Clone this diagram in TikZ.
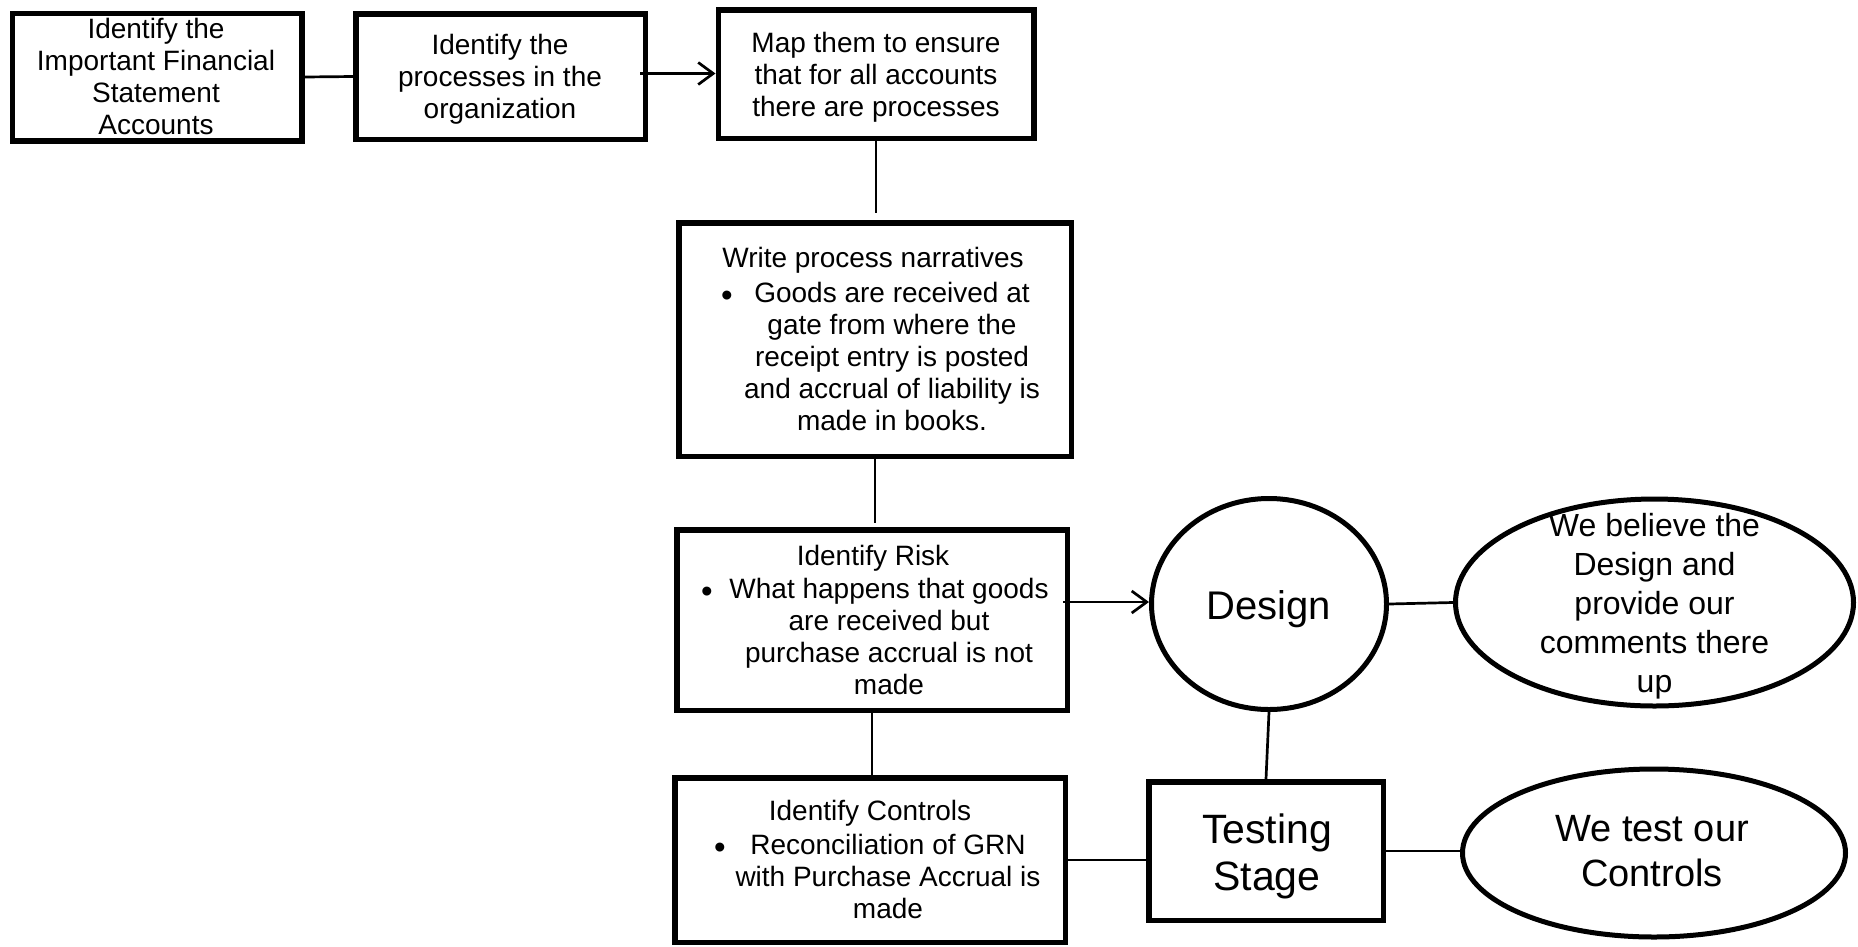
\documentclass[tikz,border=0pt]{standalone}
\usepackage{fontspec}
\setmainfont{Liberation Sans}
\usetikzlibrary{arrows.meta,shapes.geometric}
\tikzset{
  box/.style={draw, line width=5.5pt, rectangle, inner sep=0pt},
  oval/.style={draw, line width=5pt, ellipse, inner sep=0pt},
  txt/.style={align=center, inner sep=0pt, font=\fontsize{28}{32}\selectfont},
  dot/.style={inner sep=0pt, font=\fontsize{33}{33}\selectfont},
  conn/.style={line width=2.7pt},
  arr/.style={line width=2.7pt, -{Straight Barb[length=15pt,width=22pt]}},
}
\begin{document}
\begin{tikzpicture}[x=1pt,y=1pt]
\useasboundingbox (0,0) rectangle (1858,-946);
% boxes
\node[box, minimum width=289.5pt, minimum height=127.5pt] (b1) at (157,-77) {};
\node[box, minimum width=289.5pt, minimum height=125.5pt] (b2) at (500.5,-76.5) {};
\node[box, minimum width=315.5pt, minimum height=128.5pt] (b3) at (876,-74) {};
\node[box, minimum width=392.5pt, minimum height=233.5pt] (b4) at (875,-339.5) {};
\node[box, minimum width=390.5pt, minimum height=180.5pt] (b5) at (872,-620) {};
\node[box, minimum width=390.5pt, minimum height=164.5pt] (b6) at (870,-860) {};
\node[box, minimum width=234.5pt, minimum height=138.5pt] (t) at (1266,-851) {};
\node[oval, minimum width=235pt, minimum height=211pt] (d) at (1269,-604) {};
\node[oval, minimum width=398pt, minimum height=207pt] (e1) at (1654.5,-602.5) {};
\node[oval, minimum width=383pt, minimum height=168pt] (e2) at (1654,-853) {};
% texts
\node[txt, font=\fontsize{41}{47}\selectfont] (tt) at (1267,-856) {Testing\\Stage};
\node[txt, font=\fontsize{40}{47}\selectfont] (td) at (1269,-609) {Design};
\node[txt, font=\fontsize{32}{39}\selectfont] (te1) at (1654.5,-606) {We believe the\\Design and\\provide our\\comments there\\up};
\node[txt, font=\fontsize{38}{45}\selectfont] (te2) at (1652,-851) {We test our\\Controls};
\node[txt] (tb1) at (156,-76) {Identify the\\Important Financial\\Statement\\Accounts};
\node[txt] (tb2) at (500,-79.5) {Identify the\\processes in the\\organization};
\node[txt] (tb3) at (876,-77) {Map them to ensure\\that for all accounts\\there are processes};
\node[txt] (h4) at (873,-260.5) {Write process narratives};
\node[dot] (p4) at (727,-299) {•};
\node[txt] (l4) at (892,-356) {Goods are received at\\gate from where the\\receipt entry is posted\\and accrual of liability is\\made in books.};
\node[txt] (h5) at (873,-558) {Identify Risk};
\node[dot] (p5) at (707,-595) {•};
\node[txt] (l5) at (889,-636) {What happens that goods\\are received but\\purchase accrual is not\\made};
\node[txt] (h6) at (870,-813) {Identify Controls};
\node[dot] (p6) at (720,-851) {•};
\node[txt] (l6) at (888,-876) {Reconciliation of GRN\\with Purchase Accrual is\\made};
% connectors
\draw[conn] (b1.east) -- (b2.west);
\coordinate (a1s) at (640,-73.5);
\draw[arr] (a1s) -- (a1s -| b3.west);
\draw[conn, shorten >=7pt] (b3.south) -- (b3.south |- b4.north);
\draw[conn, shorten >=4pt] (b4.south) -- (b4.south |- b5.north);
\draw[conn] (b5.south) -- (b5.south |- b6.north);
\coordinate (a2s) at (1063,-602);
\draw[arr] (a2s) -- (a2s -| d.west);
\draw[conn] (d.east) -- (e1.west);
\draw[conn] (d.south) -- (t.north);
\draw[conn] (b6.east) -- (b6.east -| t.west);
\draw[conn] (t.east) -- (t.east -| e2.west);
\end{tikzpicture}
\end{document}
